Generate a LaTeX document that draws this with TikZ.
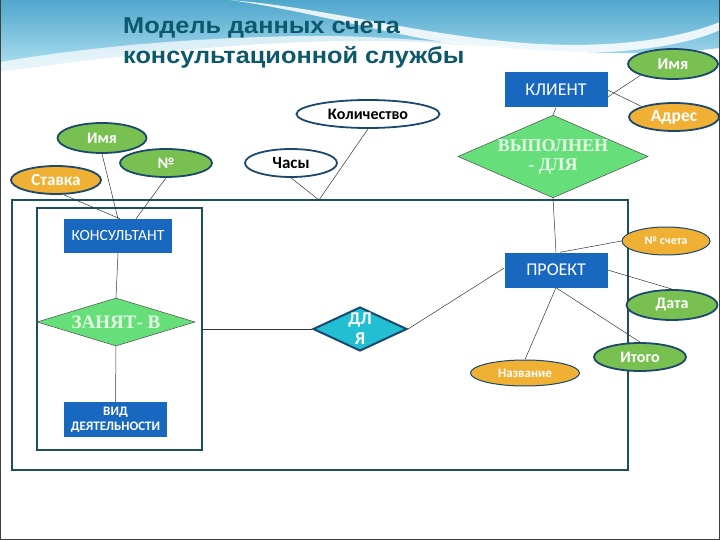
\documentclass[tikz,border=0pt]{standalone}
\usepackage{fontspec}
\setmainfont{Carlito}
\newfontfamily\titlefont[FakeStretch=1.1]{Liberation Sans}
\newfontfamily\dfont{Liberation Serif}
\usetikzlibrary{shapes.geometric}
\definecolor{entblue}{RGB}{24,104,192}
\definecolor{edgeblue}{RGB}{28,72,110}
\definecolor{attgreen}{RGB}{120,192,80}
\definecolor{attorange}{RGB}{240,176,52}
\definecolor{relgreen}{RGB}{102,222,122}
\definecolor{relcyan}{RGB}{34,190,210}
\definecolor{frameteal}{RGB}{30,78,96}
\definecolor{titleteal}{RGB}{12,88,108}
\definecolor{banA}{RGB}{80,166,205}
\definecolor{banB}{RGB}{180,228,242}
\tikzset{
  ent/.style={rectangle, fill=entblue, text=white, inner sep=0pt, align=center},
  attr/.style={ellipse, draw=edgeblue, line width=1.8pt, inner sep=0pt, text=white},
  attg/.style={attr, fill=attgreen},
  atto/.style={attr, fill=attorange},
  attw/.style={attr, fill=white, text=black},
  relg/.style={diamond, fill=relgreen, draw=black!70, line width=0.5pt, inner sep=0pt, text=white!90!green, align=center},
  relc/.style={diamond, fill=relcyan, draw=edgeblue, line width=2pt, inner sep=0pt, text=white, align=center},
  link/.style={draw=black!80, line width=0.5pt},
  frm/.style={draw=frameteal, line width=1.8pt},
  ttl/.style={anchor=base west, inner sep=0pt, text=titleteal, font=\titlefont\bfseries\fontsize{23}{23}\selectfont},
}
\begin{document}
\begin{tikzpicture}[x=1pt,y=-1pt]
\useasboundingbox (0,0) rectangle (720,540);
% banner
\shade[top color=banA, bottom color=banB] (0,0) -- (720,0) -- (720,48) .. controls (620,60) and (520,48) .. (420,42) .. controls (280,36) and (120,55) .. (0,72) -- cycle;
\fill[white, opacity=0.85] (230,0) .. controls (330,8) and (430,38) .. (540,44) .. controls (620,48) and (680,38) .. (720,22) -- (720,30) .. controls (680,48) and (610,56) .. (530,52) .. controls (420,46) and (330,14) .. (230,0) -- cycle;
\fill[white, opacity=0.7] (0,62) .. controls (100,45) and (200,38) .. (300,36) .. controls (360,35) and (420,40) .. (470,44) .. controls (400,44) and (330,42) .. (280,44) .. controls (180,48) and (90,62) .. (0,75) -- cycle;
\draw[black!75, line width=1pt] (0.5,0) -- (0.5,539.5) -- (719.5,539.5) -- (719.5,0);
% title
\node[ttl] (title1) at (123,34) {Модель данных счета};
\node[ttl] (title2) at (123,64) {консультационной службы};
% frames
\node[frm, rectangle, minimum width=616pt, minimum height=270pt, inner sep=0pt] (frameB) at (320,335) {};
\node[frm, rectangle, minimum width=165pt, minimum height=242pt, inner sep=0pt] (frameA) at (119.5,329) {};
% entities
\node[ent, minimum width=108pt, minimum height=34pt, font=\fontsize{15.5}{15.5}\selectfont] (kons) at (118,236) {КОНСУЛЬТАНТ};
\node[ent, minimum width=103pt, minimum height=35pt, font=\fontsize{18}{18}\selectfont] (klient) at (556,90) {КЛИЕНТ};
\node[ent, minimum width=103pt, minimum height=35pt, font=\fontsize{18}{18}\selectfont] (proekt) at (556,270) {ПРОЕКТ};
\node[ent, minimum width=103pt, minimum height=35pt, font=\bfseries\fontsize{13}{15}\selectfont] (vid) at (115.5,419.5) {ВИД\\ДЕЯТЕЛЬНОСТИ};
% relationships
\node[relg, aspect=2.3, minimum width=180pt, minimum height=79pt, font=\dfont\bfseries\fontsize{18}{19}\selectfont] (vyp) at (553,156.5) {ВЫПОЛНЕН\\- ДЛЯ};
\node[relg, aspect=3.3, minimum width=158pt, minimum height=48pt, font=\dfont\bfseries\fontsize{19}{19}\selectfont] (zan) at (116,322) {ЗАНЯТ- В};
\node[relc, aspect=2.1, minimum width=94pt, minimum height=44pt, font=\bfseries\fontsize{18}{20}\selectfont] (dlya) at (360,329) {ДЛ\\Я};
% attributes
\node[attg, minimum width=90pt, minimum height=30pt, font=\bfseries\fontsize{16.5}{16.5}\selectfont] (imyaK) at (673,64) {Имя};
\node[atto, minimum width=90pt, minimum height=28pt, font=\bfseries\fontsize{17.5}{17.5}\selectfont] (adres) at (674,117) {Адрес};
\node[attw, minimum width=143pt, minimum height=28pt, font=\bfseries\fontsize{16}{16}\selectfont] (kol) at (368,114) {Количество};
\node[attg, minimum width=89pt, minimum height=30pt, font=\bfseries\fontsize{16}{16}\selectfont] (imyaC) at (102,138) {Имя};
\node[atto, minimum width=90pt, minimum height=28pt, font=\bfseries\fontsize{17}{17}\selectfont] (stavka) at (56,180) {Ставка};
\node[attg, minimum width=92pt, minimum height=28pt, font=\bfseries\fontsize{16}{16}\selectfont] (nom) at (166,163) {№};
\node[attw, minimum width=92pt, minimum height=28pt, font=\bfseries\fontsize{17}{17}\selectfont] (chasy) at (291,163) {Часы};
\node[atto, minimum width=88pt, minimum height=28pt, line width=1pt, font=\bfseries\fontsize{12}{12}\selectfont] (schet) at (666,241) {№ счета};
\node[attg, minimum width=91pt, minimum height=30pt, font=\bfseries\fontsize{16}{16}\selectfont] (data) at (672,305) {Дата};
\node[attg, minimum width=92pt, minimum height=28pt, font=\bfseries\fontsize{16}{16}\selectfont] (itogo) at (640,357) {Итого};
\node[atto, minimum width=109pt, minimum height=26pt, line width=1pt, font=\bfseries\fontsize{13}{13}\selectfont] (nazv) at (525,373) {Название};
% connectors
\coordinate (kch) at (319,200);
\path[link] (imyaC.south) -- (kons.north);
\path[link] ([xshift=8pt]stavka.south) -- ([xshift=2pt]kons.north);
\path[link] (nom.south) -- ([xshift=18pt]kons.north);
\path[link] (kons.south) -- (zan.north);
\path[link] (zan.south) -- (vid.north);
\path[link] (dlya.west) -- (dlya.west -| frameA.east);
\path[link] (dlya.east) -- ([yshift=2pt]proekt.west);
\path[link] (chasy.south) -- (kch);
\path[link] (kol.south) -- (kch);
\path[link] (klient.south) -- (vyp.north);
\path[link] ([yshift=-7pt]klient.east) -- (imyaK.south west);
\path[link] (klient.east) -- (adres.north west);
\path[link] (vyp.south) -- (proekt.north);
\path[link] ([xshift=4pt]proekt.north) -- (schet.west);
\path[link] (proekt.east) -- (data.north);
\path[link] (proekt.south) -- (itogo.north);
\path[link] (proekt.south) -- (nazv.north);
\end{tikzpicture}
\end{document}
